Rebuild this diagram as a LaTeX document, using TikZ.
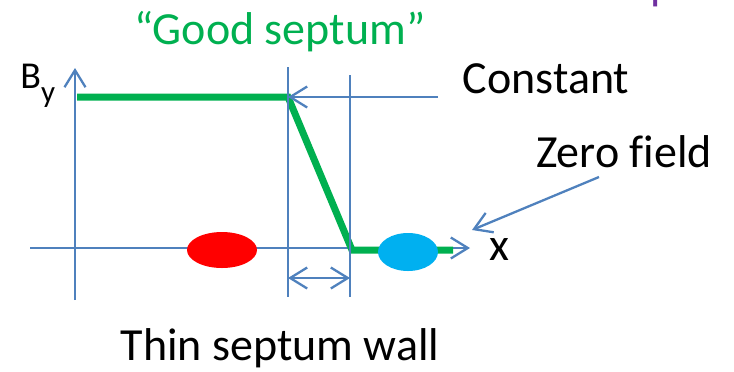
\documentclass[tikz,border=0pt]{standalone}
\usepackage{fontspec}
\setmainfont{Carlito}[Ligatures=NoCommon]
\usetikzlibrary{arrows.meta,shapes.geometric}
\definecolor{guideblue}{HTML}{4F81BD}
\definecolor{fieldgreen}{HTML}{00B050}
\definecolor{beamred}{HTML}{FF0000}
\definecolor{beamcyan}{HTML}{00B0F0}
\definecolor{titlepurple}{HTML}{7030A0}

\begin{document}
\begin{tikzpicture}[x=0.5pt,y=-0.5pt,
    guide/.style={draw=guideblue,line width=1.15pt},
    pointer/.style={guide,-{Straight Barb[length=8.5pt,width=10.5pt]}},
    field/.style={draw=fieldgreen,line width=3.5pt},
    beam/.style={ellipse,draw=none,inner sep=0pt},
    txt/.style={inner sep=0pt,anchor=base,font=\fontsize{23}{27}\selectfont}]
    \useasboundingbox (0,0) rectangle (734,371);

    % axes
    \coordinate (yfoot) at (75,300);
    \coordinate (ytip) at (75,68);
    \coordinate (xfoot) at (30,248);
    \coordinate (xtip) at (470,248);
    \draw[pointer] (yfoot) -- (ytip);
    \draw[pointer] (xfoot) -- (xtip);

    % beams
    \node[beam,fill=beamred,minimum width=35pt,minimum height=18pt] (redbeam) at (222,250) {};

    % field profile
    \coordinate (flat) at (77,97);
    \coordinate (knee) at (288,97);
    \coordinate (foot) at (352,250);
    \coordinate (tail) at (453,250);
    \draw[field] (flat) -- (knee) -- (foot) -- (tail);
    \node[beam,fill=beamcyan,minimum width=30pt,minimum height=19pt] (cyanbeam) at (408,252) {};

    % septum wall
    \coordinate (wallA top) at (288,67);
    \coordinate (wallA bot) at (288,297);
    \coordinate (wallB top) at (350,75);
    \coordinate (wallB bot) at (350,297);
    \draw[guide] (wallA top) -- (wallA bot);
    \draw[guide] (wallB top) -- (wallB bot);
    \coordinate (gapL) at (288,278);
    \coordinate (gapR) at (350,278);
    \draw[pointer,{Straight Barb[length=8.5pt,width=10.5pt]}-{Straight Barb[length=8.5pt,width=10.5pt]}] (gapL) -- (gapR);

    % labels
    \node[txt,text=fieldgreen] (good) at (280,44) {“Good septum”};
    \node[txt,text=titlepurple] (title) at (679,-1) {Septum};
    \node[txt,anchor=base west] (by) at (20,88) {\fontsize{19}{22}\selectfont B\raisebox{-7pt}{\fontsize{15.5}{18}\selectfont y}};
    \node[txt] (const) at (546,93) {Constant};
    \node[txt] (zero) at (624,167) {Zero field};
    \node[txt] (xlab) at (499,260) {x};
    \node[txt] (wall) at (280,360) {Thin septum wall};

    \coordinate (constfrom) at (438,97);
    \coordinate (zerofrom) at (599,177);
    \coordinate (zeroto) at (472,230);
    \draw[pointer] (constfrom) -- (knee);
    \draw[pointer] (zerofrom) -- (zeroto);
\end{tikzpicture}
\end{document}
